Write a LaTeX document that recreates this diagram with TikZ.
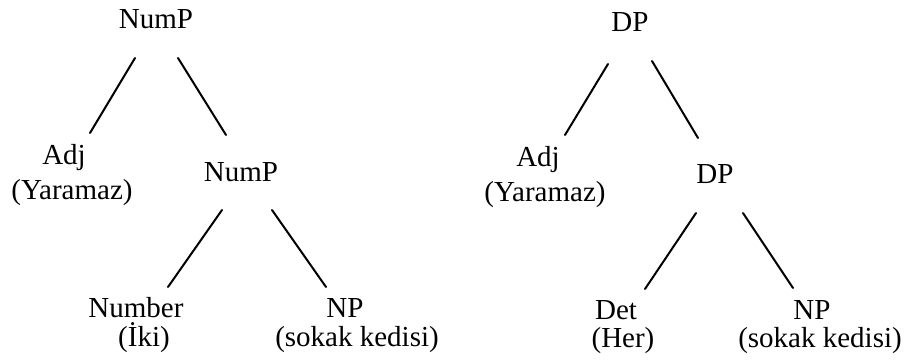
\documentclass[tikz,border=0pt]{standalone}
\usepackage{fontspec}
\setmainfont{Liberation Serif}
\begin{document}
\begin{tikzpicture}[x=1pt,y=-1pt,
  lbl/.style={anchor=base, inner sep=0pt, font=\fontsize{29}{34}\selectfont},
  branch/.style={line width=2pt, line cap=round}]
\useasboundingbox[fill=white] (0,0) rectangle (906,363);

% ---- NumP tree ----
\node[lbl] (nump)   at (156,29)  {NumP};
\node[lbl] (adjL)   at (64,165)  {Adj};
\node[lbl] (adjLg)  at (72,200)  {(Yaramaz)};
\node[lbl] (nump2)  at (241,182) {NumP};
\node[lbl] (num)    at (136,318) {Number};
\node[lbl] (numg)   at (144,347) {(İki)};
\node[lbl] (npL)    at (345,318) {NP};
\node[lbl] (npLg)   at (357,347) {(sokak kedisi)};

\draw[branch] ([shift={(-21,29)}]nump.base) -- ([shift={(26,-32)}]adjL.base);
\draw[branch] ([shift={(22,29)}]nump.base)  -- ([shift={(-15,-47)}]nump2.base);
\draw[branch] ([shift={(-19,28)}]nump2.base) -- ([shift={(32,-31)}]num.base);
\draw[branch] ([shift={(31,28)}]nump2.base)  -- ([shift={(-19,-31)}]npL.base);

% ---- DP tree ----
\node[lbl] (dp)     at (630,32)  {DP};
\node[lbl] (adjR)   at (538,167) {Adj};
\node[lbl] (adjRg)  at (545,202) {(Yaramaz)};
\node[lbl] (dp2)    at (715,184) {DP};
\node[lbl] (det)    at (616,320) {Det};
\node[lbl] (detg)   at (623,348) {(Her)};
\node[lbl] (npR)    at (812,320) {NP};
\node[lbl] (npRg)   at (820,348) {(sokak kedisi)};

\draw[branch] ([shift={(-22,32)}]dp.base) -- ([shift={(27,-32)}]adjR.base);
\draw[branch] ([shift={(22,29)}]dp.base)  -- ([shift={(-17,-46)}]dp2.base);
\draw[branch] ([shift={(-19,29)}]dp2.base) -- ([shift={(29,-31)}]det.base);
\draw[branch] ([shift={(28,29)}]dp2.base)  -- ([shift={(-19,-32)}]npR.base);
\end{tikzpicture}
\end{document}
